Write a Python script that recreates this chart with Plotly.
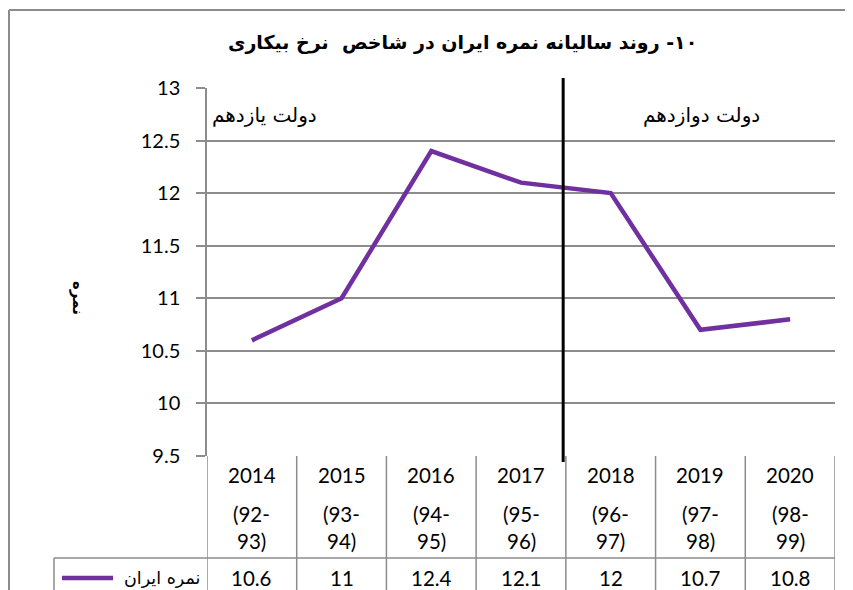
import plotly.graph_objects as go

# ---- data ----
years = ["2014", "2015", "2016", "2017", "2018", "2019", "2020"]
periods = ["(92-93)", "(93-94)", "(94-95)", "(95-96)", "(96-97)", "(97-98)", "(98-99)"]
values = [10.6, 11, 12.4, 12.1, 12, 10.7, 10.8]
series_name = "نمره ایران"
title_text = "\u200f۱۰- روند سالیانه نمره ایران در شاخص  نرخ بیکاری"
y_title = "نمره"
gov11 = "دولت یازدهم"
gov12 = "دولت دوازدهم"
y_ticks = [9.5, 10, 10.5, 11, 11.5, 12, 12.5, 13]

# page body has an 8px margin: the figure starts at (8, 8) of the window
OFF = 8
W, H = 853 - OFF, 590 - OFF
L, R, T, B = 207, 835, 88, 456   # plot area in window pixels
PURPLE = "#7030A0"
GRAY = "#8c8c8c"
NUM_FONT = "Lato, 'Open Sans', sans-serif"
FA_FONT = "'DejaVu Sans', sans-serif"
TABLE_SIZE = 20.5


def px(x):
    return (x - L) / (R - L)


def py(y):
    return (B - y) / (B - T)


xs = list(range(len(years)))

fig = go.Figure()
fig.add_trace(go.Scatter(
    x=xs, y=values, mode="lines", name=series_name,
    line=dict(color=PURPLE, width=4.5), showlegend=False,
))

shapes = []
# outer chart border (left and top visible)
shapes.append(dict(type="line", xref="paper", yref="paper", x0=px(9), x1=px(9), y0=py(10), y1=py(600),
                   line=dict(color=GRAY, width=2)))
shapes.append(dict(type="line", xref="paper", yref="paper", x0=px(9), x1=px(860), y0=py(10), y1=py(10),
                   line=dict(color=GRAY, width=2)))
# data table vertical lines
for i in range(len(years) + 1):
    shapes.append(dict(type="line", xref="x", yref="paper", x0=i - 0.5, x1=i - 0.5, y0=py(456), y1=py(600),
                       line=dict(color=GRAY, width=1.5)))
# table horizontal line above value row
shapes.append(dict(type="line", xref="paper", yref="paper", x0=px(54), x1=px(835), y0=py(558), y1=py(558),
                   line=dict(color=GRAY, width=1.5)))
# legend cell left border
shapes.append(dict(type="line", xref="paper", yref="paper", x0=px(54), x1=px(54), y0=py(558), y1=py(600),
                   line=dict(color=GRAY, width=1.5)))
# legend key
shapes.append(dict(type="line", xref="paper", yref="paper", x0=px(62), x1=px(113), y0=py(578), y1=py(578),
                   line=dict(color=PURPLE, width=4.5)))
# government divider
shapes.append(dict(type="line", xref="x", yref="paper", x0=3.47, x1=3.47, y0=py(78), y1=py(462),
                   line=dict(color="black", width=3)))

annotations = []
for i, (yr, pr, v) in enumerate(zip(years, periods, values)):
    a, b = pr.split("-")
    annotations.append(dict(x=i, y=py(475), xref="x", yref="paper", text=yr, showarrow=False,
                            font=dict(family=NUM_FONT, size=TABLE_SIZE, color="black"), yanchor="middle"))
    annotations.append(dict(x=i, y=py(514), xref="x", yref="paper", text=a + "-", showarrow=False,
                            font=dict(family=NUM_FONT, size=TABLE_SIZE, color="black"), yanchor="middle"))
    annotations.append(dict(x=i, y=py(541), xref="x", yref="paper", text=b, showarrow=False,
                            font=dict(family=NUM_FONT, size=TABLE_SIZE, color="black"), yanchor="middle"))
    annotations.append(dict(x=i, y=py(578), xref="x", yref="paper", text=f"{v:g}", showarrow=False,
                            font=dict(family=NUM_FONT, size=TABLE_SIZE, color="black"), yanchor="middle"))

annotations.append(dict(x=px(202), y=py(578), xref="paper", yref="paper", text=series_name, showarrow=False,
                        xanchor="right", yanchor="middle", font=dict(family=FA_FONT, size=17.5, color="black")))
annotations.append(dict(x=px(462), y=py(42), xref="paper", yref="paper", text="<b>" + title_text + "</b>",
                        showarrow=False, xanchor="center", yanchor="middle",
                        font=dict(family=FA_FONT, size=19, color="black")))
annotations.append(dict(x=px(210), y=py(115), xref="paper", yref="paper", text=gov11, showarrow=False,
                        xanchor="left", yanchor="middle", font=dict(family=FA_FONT, size=20, color="black")))
annotations.append(dict(x=px(762), y=py(115), xref="paper", yref="paper", text=gov12, showarrow=False,
                        xanchor="right", yanchor="middle", font=dict(family=FA_FONT, size=20, color="black")))
annotations.append(dict(x=px(78), y=py(298), xref="paper", yref="paper", text="<b>" + y_title + "</b>",
                        showarrow=False, textangle=90, xanchor="center", yanchor="middle",
                        font=dict(family=FA_FONT, size=15, color="black")))

fig.update_layout(
    width=W, height=H,
    margin=dict(l=L - OFF, r=W - (R - OFF), t=T - OFF, b=H - (B - OFF)),
    paper_bgcolor="white", plot_bgcolor="white",
    shapes=shapes, annotations=annotations,
    xaxis=dict(range=[-0.5, len(years) - 0.5], showticklabels=False, showgrid=False, zeroline=False,
               showline=False, ticks=""),
    yaxis=dict(range=[9.5, 13], tickvals=y_ticks, ticktext=[f"{t:g}" for t in y_ticks],
               showgrid=True, gridcolor=GRAY, gridwidth=1.5, zeroline=False,
               showline=True, linecolor=GRAY, linewidth=1.5,
               ticks="outside", ticklen=9, tickcolor=GRAY, tickwidth=1.5,
               ticklabelstandoff=12,
               tickfont=dict(family=NUM_FONT, size=20, color="black")),
    showlegend=False,
)

fig.write_html("out.html")
